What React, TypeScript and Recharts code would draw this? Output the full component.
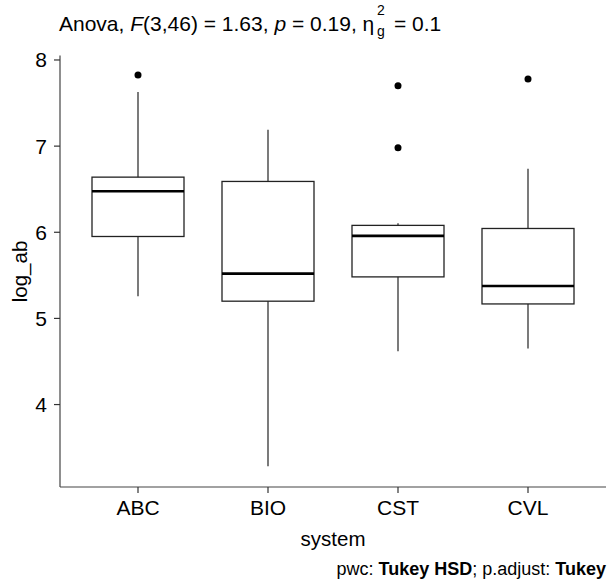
import { ComposedChart, Bar, Scatter, XAxis, YAxis } from "recharts";

// box statistics per system
const systems = ["ABC", "BIO", "CST", "CVL"];
const whiskerLow = [5.258, 3.283, 4.619, 4.65];
const q1 = [5.951, 5.2, 5.482, 5.168];
const median = [6.477, 5.52, 5.958, 5.377];
const q3 = [6.64, 6.59, 6.08, 6.044];
const whiskerHigh = [7.627, 7.19, 6.106, 6.736];

// points beyond the whiskers
const outlierSystem = ["ABC", "CST", "CST", "CVL"];
const outlierValue = [7.825, 7.7, 6.98, 7.778];

const yTicks = [4, 5, 6, 7, 8];

const data = systems.map((s, i) => ({
  system: s,
  whisker: [whiskerLow[i], whiskerHigh[i]],
  box: [q1[i], q3[i]],
  median: median[i],
}));

const outliers = outlierSystem.map((s, i) => ({ system: s, value: outlierValue[i] }));

const FONT = "'Liberation Sans', Arial, sans-serif";
const BOX_W = 92;

const WhiskerShape = (props: any) => {
  const { x, y, width, height } = props;
  const cx = x + width / 2;
  const top = Math.min(y, y + height);
  return <line x1={cx} x2={cx} y1={top} y2={top + Math.abs(height)} stroke="#333" strokeWidth={1.3} />;
};

const BoxShape = (props: any) => {
  const { x, y, width, height } = props;
  const top = Math.min(y, y + height);
  return (
    <rect x={x} y={top} width={width} height={Math.abs(height)} fill="#fff" stroke="#222" strokeWidth={1.3} />
  );
};

const MedianShape = (props: any) => {
  const { cx, cy } = props;
  return <line x1={cx - BOX_W / 2} x2={cx + BOX_W / 2} y1={cy} y2={cy} stroke="#000" strokeWidth={2.6} />;
};

const Dot = (props: any) => <circle cx={props.cx} cy={props.cy} r={3.5} fill="#000" />;

export default function App() {
  const tick = { fontSize: 21, fill: "#000", fontFamily: FONT };
  return (
    <div style={{ position: "absolute", left: 0, top: 0, width: 608, height: 580, background: "#fff" }}>
      <ComposedChart
        width={608}
        height={580}
        data={data}
        margin={{ top: 55.5, right: 2, bottom: 63, left: 0 }}
      >
        <XAxis
          xAxisId="a"
          dataKey="system"
          type="category"
          allowDuplicatedCategory={false}
          padding={{ left: 13, right: 13 }}
          height={30}
          tick={tick}
          tickSize={6}
          tickMargin={7}
          axisLine={{ stroke: "#444", strokeWidth: 1.2 }}
          tickLine={{ stroke: "#333", strokeWidth: 1.2 }}
        />
        <XAxis
          xAxisId="b"
          dataKey="system"
          type="category"
          allowDuplicatedCategory={false}
          padding={{ left: 13, right: 13 }}
          hide
        />
        <YAxis
          type="number"
          domain={[3.043, 8.052]}
          ticks={yTicks}
          allowDataOverflow
          width={60}
          tick={tick}
          tickSize={6}
          tickMargin={7}
          axisLine={{ stroke: "#444", strokeWidth: 1.2 }}
          tickLine={{ stroke: "#333", strokeWidth: 1.2 }}
        />
        <Bar xAxisId="a" dataKey="whisker" barSize={BOX_W} shape={WhiskerShape} isAnimationActive={false} />
        <Bar xAxisId="b" dataKey="box" barSize={BOX_W} shape={BoxShape} isAnimationActive={false} />
        <Scatter xAxisId="a" dataKey="median" shape={MedianShape} isAnimationActive={false} />
        <Scatter xAxisId="a" data={outliers} dataKey="value" shape={Dot} isAnimationActive={false} />
      </ComposedChart>
      <svg
        width={608}
        height={580}
        style={{ position: "absolute", left: 0, top: 0, pointerEvents: "none" }}
        fontFamily={FONT}
      >
        <text x={59} y={31} fontSize={21} fill="#000">
          Anova, <tspan fontStyle="italic">F</tspan>(3,46) = 1.63, <tspan fontStyle="italic">p</tspan> = 0.19, η
        </text>
        <text x={377} y={15} fontSize={14} fill="#000">2</text>
        <text x={377} y={36} fontSize={14} fill="#000">g</text>
        <text x={394} y={31} fontSize={21} fill="#000">= 0.1</text>
        <text x={333} y={546} fontSize={20.5} fill="#000" textAnchor="middle">system</text>
        <text x={27} y={271.5} fontSize={20.5} fill="#000" textAnchor="middle" transform="rotate(-90 27 271.5)">
          log_ab
        </text>
        <text x={606} y={575} fontSize={18} fill="#000" textAnchor="end">
          pwc: <tspan fontWeight="bold">Tukey HSD</tspan>; p.adjust: <tspan fontWeight="bold">Tukey</tspan>
        </text>
      </svg>
    </div>
  );
}
